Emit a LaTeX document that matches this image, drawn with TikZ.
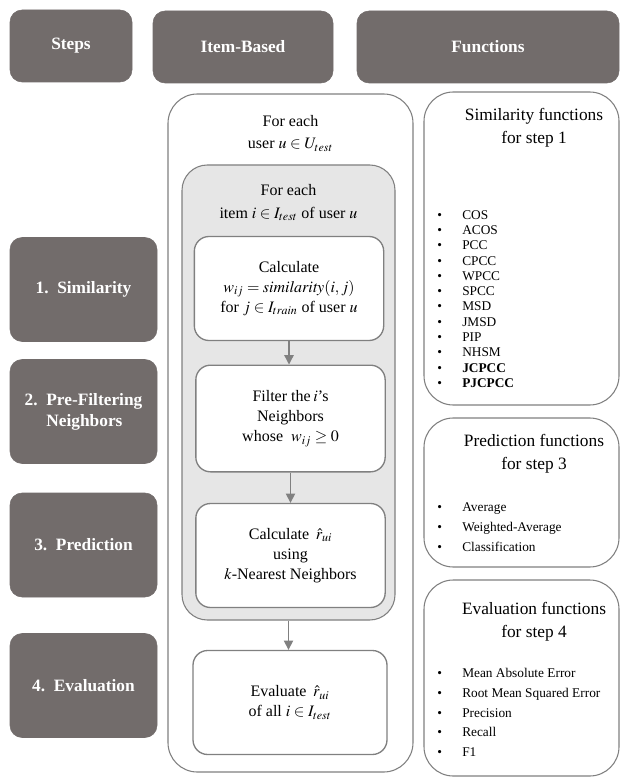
\documentclass[tikz,border=0pt]{standalone}
\usepackage{mathptmx}
\usepackage{fontspec}
\setmainfont{Liberation Serif}
\usetikzlibrary{positioning, arrows.meta}

\definecolor{headgray}{RGB}{114,108,107}
\definecolor{linegray}{RGB}{128,128,128}
\definecolor{loopgray}{RGB}{230,230,230}

\newcommand{\bitem}[1]{\makebox[18.75pt][l]{\textbullet}#1}

\begin{document}
\begin{tikzpicture}[
    x=0.75pt, y=-0.75pt,
    header/.style={rectangle, rounded corners=9pt, fill=headgray, draw=headgray, text=white, font=\fontsize{13}{16}\selectfont\bfseries, align=center, inner sep=0pt},
    stepbox/.style={header, minimum width=110.25pt, minimum height=78pt},
    loopbox/.style={rectangle, draw=linegray, line width=0.8pt},
    looplabel/.style={align=center, inner sep=0pt, font=\fontsize{12}{17}\selectfont},
    calcbox/.style={rectangle, rounded corners=11pt, draw=linegray, line width=1pt, fill=white, align=center, font=\fontsize{12}{15}\selectfont, minimum width=142pt, minimum height=78pt, inner sep=0pt},
    funcbox/.style={rectangle, rounded corners=22pt, draw=linegray, line width=0.8pt, minimum width=146.25pt},
    functitle/.style={align=center, inner sep=0pt, font=\fontsize{13}{17}\selectfont},
    funclist/.style={align=left, inner sep=0pt},
    flow/.style={-{Triangle[length=7pt,width=7pt]}, draw=linegray, line width=1pt}
]
\useasboundingbox (0,0) rectangle (620,777);

% Column headers
\node[header, minimum width=91.5pt, minimum height=54pt] (steps) at (71,46) {Steps};
\node[header, minimum width=135pt, minimum height=54pt] (itembased) at (243,47) {Item-Based};
\node[header, minimum width=196.5pt, minimum height=54pt] (functions) at (488,47) {Functions};

% Steps
\node[stepbox] (similarity) at (83.5,289.5) {1.~~Similarity};
\node[stepbox] (prefilter) at (83.5,411.5) {\begin{tabular}{@{}l@{~~}l@{}}2. & Pre-Filtering\\ & Neighbors\end{tabular}};
\node[stepbox] (prediction) at (83.5,545) {3.~~Prediction};
\node[stepbox] (evaluation) at (83.5,685.5) {4.~~Evaluation};

% Loops
\node[loopbox, rounded corners=22pt, fill=white, minimum width=183.75pt, minimum height=508.5pt] (userloop) at (290.5,433) {};
\node[looplabel, below=16pt of userloop.north] (userlabel) {For each\\ user $u \in U_{test}$};
\node[loopbox, rounded corners=19pt, fill=loopgray, minimum width=159.75pt, minimum height=341.25pt] (itemloop) at (288.5,392.5) {};
\node[looplabel, below=15pt of itemloop.north] (itemlabel) {For each\\ item $i \in I_{test}$ of user $u$};

% Item-based boxes
\node[calcbox] (calcsim) at (289,288.5) {Calculate\\ $w_{ij} = \mathit{similarity}(i,j)$\\ for $j \in I_{train}$ of user $u$};
\node[calcbox, minimum height=80pt] (filter) at (290.5,418.5) {Filter the\,$i$'s\\ Neighbors\\ whose~ $w_{ij} \geq 0$};
\node[calcbox] (calcpred) at (290.5,555.5) {Calculate\, $\hat{r}_{ui}$\\ using\\ $k$-Nearest Neighbors};
\node[calcbox, minimum width=145.5pt] (evalbox) at (290,702.5) {Evaluate\, $\hat{r}_{ui}$\\ of all $i \in I_{test}$};

\draw[flow] (calcsim.south) -- (calcsim.south |- filter.north);
\draw[flow] (filter.south) -- (filter.south |- calcpred.north);
\draw[flow] (itemloop.south) -- (itemloop.south |- evalbox.north);

% Functions
\node[funcbox, minimum height=234.75pt] (simfunc) at (521.5,248.5) {};
\node[functitle] (simtitle) at (534,128) {Similarity functions\\ for step 1};
\node[funclist, anchor=west, font=\fontsize{10}{11.45}\selectfont] (simlist) at (437,299) {\bitem{COS}\\ \bitem{ACOS}\\ \bitem{PCC}\\ \bitem{CPCC}\\ \bitem{WPCC}\\ \bitem{SPCC}\\ \bitem{MSD}\\ \bitem{JMSD}\\ \bitem{PIP}\\ \bitem{NHSM}\\ \bitem{\textbf{JCPCC}}\\ \bitem{\textbf{PJCPCC}}};

\node[funcbox, minimum height=111.75pt] (predfunc) at (521.5,492.5) {};
\node[functitle] (predtitle) at (534,454) {Prediction functions\\ for step 3};
\node[funclist, anchor=west, font=\fontsize{10}{15}\selectfont] (predlist) at (437,527) {\bitem{Average}\\ \bitem{Weighted-Average}\\ \bitem{Classification}};

\node[funcbox, minimum height=147pt] (evalfunc) at (521.5,678) {};
\node[functitle] (evaltitle) at (534,621.5) {Evaluation functions\\ for step 4};
\node[funclist, anchor=west, font=\fontsize{10}{14.8}\selectfont] (evallist) at (437,712.5) {\bitem{Mean Absolute Error}\\ \bitem{Root Mean Squared Error}\\ \bitem{Precision}\\ \bitem{Recall}\\ \bitem{F1}};

\end{tikzpicture}
\end{document}
